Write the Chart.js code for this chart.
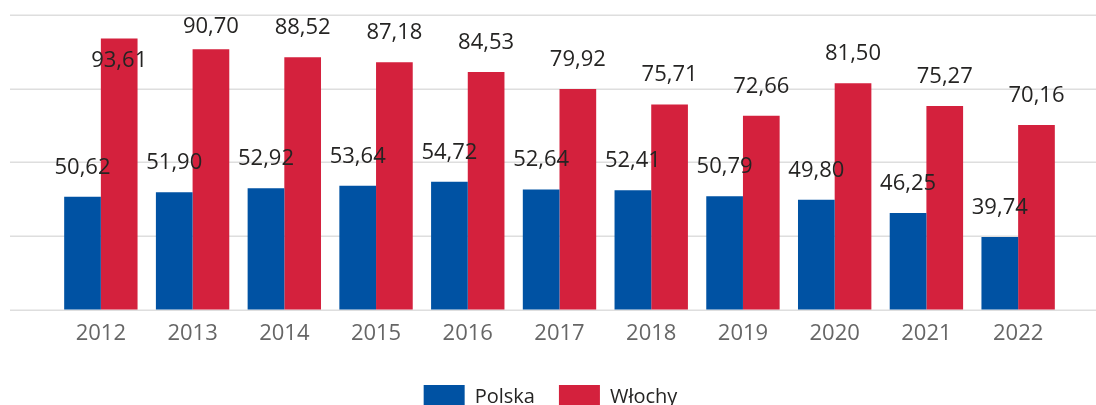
<!DOCTYPE html>
<html>
<head>
<meta charset="utf-8">
<script src="https://cdn.jsdelivr.net/npm/chart.js@4"></script>
<style>
  html, body { margin: 0; padding: 0; background: #fff; overflow: hidden; }
  #wrap { width: 1096px; height: 405px; overflow: hidden; }
</style>
</head>
<body>
<div id="wrap"><canvas id="chart" width="1096" height="419"></canvas></div>
<script>
// data
const years = ['2012', '2013', '2014', '2015', '2016', '2017', '2018', '2019', '2020', '2021', '2022'];
const polska = [50.62, 51.90, 52.92, 53.64, 54.72, 52.64, 52.41, 50.79, 49.80, 46.25, 39.74];
const wlochy = [93.61, 90.70, 88.52, 87.18, 84.53, 79.92, 75.71, 72.66, 81.50, 75.27, 70.16];
const gridValues = [20, 40, 60, 80, 100];

const fontFamily = "'Open Sans', 'Noto Sans', sans-serif";

// long horizontal gridlines, drawn across the whole width like the original
const gridPlugin = {
    id: 'longGrid',
    beforeDatasetsDraw(chart) {
        const ctx = chart.ctx;
        const y = chart.scales.y;
        ctx.save();
        ctx.strokeStyle = '#dedede';
        ctx.lineWidth = 1.5;
        gridValues.forEach(v => {
            const py = Math.round(y.getPixelForValue(v)) + 0.25;
            ctx.beginPath();
            ctx.moveTo(10, py);
            ctx.lineTo(chart.width, py);
            ctx.stroke();
        });
        ctx.restore();
    }
};

// value labels above the bars, comma as decimal separator
// (pushed down to fit at the top, or inside the bar if there is no room)
const labelPlugin = {
    id: 'valueLabels',
    afterDatasetsDraw(chart) {
        const ctx = chart.ctx;
        const minBase = chart.chartArea.top + 18;
        ctx.save();
        ctx.font = '22px ' + fontFamily;
        ctx.fillStyle = '#252423';
        ctx.textAlign = 'center';
        ctx.textBaseline = 'alphabetic';
        chart.data.datasets.forEach((ds, di) => {
            chart.getDatasetMeta(di).data.forEach((bar, i) => {
                const txt = ds.data[i].toFixed(2).replace('.', ',');
                let y = bar.y - 23;
                if (y < minBase) {
                    y = minBase;
                    if (y > bar.y - 12) y = bar.y + 28;
                }
                ctx.fillText(txt, bar.x, y);
            });
        });
        ctx.restore();
    }
};

// centre the legend on the page like the original
const legendShift = {
    id: 'legendShift',
    afterLayout(chart) {
        chart.legend.left -= 9;
        chart.legend.right -= 9;
    }
};

new Chart(document.getElementById('chart'), {
    type: 'bar',
    data: {
        labels: years,
        datasets: [
            { label: 'Polska', data: polska, backgroundColor: '#0052a3', borderWidth: 0 },
            { label: 'Włochy', data: wlochy, backgroundColor: '#d4213d', borderWidth: 0 }
        ]
    },
    options: {
        responsive: false,
        animation: false,
        layout: { padding: { left: 55, right: 32, top: 15, bottom: 0 } },
        datasets: {
            bar: { categoryPercentage: 0.8, barPercentage: 1.0 }
        },
        scales: {
            x: {
                grid: { display: false },
                border: { display: false },
                ticks: {
                    color: '#666666',
                    padding: 3,
                    font: { family: fontFamily, size: 22 }
                },
                afterFit: scale => { scale.height += 11; }
            },
            y: {
                display: false,
                min: 20,
                max: 100
            }
        },
        plugins: {
            legend: {
                position: 'bottom',
                labels: {
                    boxWidth: 41,
                    boxHeight: 24,
                    padding: 24,
                    color: '#252423',
                    font: { family: fontFamily, size: 20 }
                }
            },
            tooltip: { enabled: false }
        }
    },
    plugins: [gridPlugin, labelPlugin, legendShift]
});
</script>
</body>
</html>
